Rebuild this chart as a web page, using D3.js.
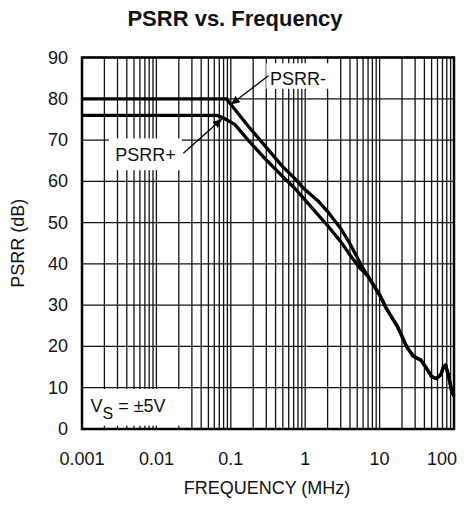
<!DOCTYPE html>
<html>
<head>
<meta charset="utf-8">
<script src="https://cdn.jsdelivr.net/npm/d3@7"></script>
<style>
  body { margin: 0; background: #fff; }
  text { font-family: "Liberation Sans", Arial, sans-serif; fill: #111; }
</style>
</head>
<body>
<svg id="psrr-chart" width="469" height="505"></svg>
<script>
// values
const freqMinus = [0.001, 0.087, 0.171, 0.288, 0.484, 0.733, 0.95, 1.5, 2.06, 3.0, 3.85, 5.83, 7, 10, 12, 14.4, 17.4, 23.2, 28.2, 32.4, 35.8, 41.3, 45.5, 50, 58, 66.8, 72, 77, 85, 93, 100];
const psrrMinus = [80, 80, 73.4, 68.6, 63.8, 60.6, 58.3, 55.2, 52.4, 48.6, 45.4, 39.3, 37, 32.5, 29.6, 27.2, 24.8, 19.9, 17.7, 17.1, 16.7, 15.1, 13.9, 12.7, 12.2, 13.2, 15, 15.5, 12.7, 9.2, 8];

const freqPlus = [0.001, 0.065, 0.0785, 0.113, 0.171, 0.288, 0.484, 0.733, 1.2, 2.06, 3.0, 3.85, 5.25, 7, 10, 12, 14.4, 17.4, 23.2, 28.2, 32.4, 35.8, 41.3, 45.5, 50, 58, 66.8, 72, 77, 85, 93, 100];
const psrrPlus = [76, 76, 75.4, 73.8, 70, 65.5, 61.4, 58.2, 53.8, 49, 45.4, 42.6, 39.3, 37, 32.5, 29.6, 27.2, 24.8, 19.9, 17.7, 17.1, 16.7, 15.1, 13.9, 12.7, 12.2, 13.2, 15, 15.5, 12.7, 9.2, 8];

const xTickValues = [0.001, 0.01, 0.1, 1, 10, 100];
const xTickLabels = ["0.001", "0.01", "0.1", "1", "10", "100"];
const yTickValues = [0, 10, 20, 30, 40, 50, 60, 70, 80, 90];

// plot box in pixels
const plotLeft = 82, plotRight = 454, plotTop = 57.5, plotBottom = 429;

var svg = d3.select("#psrr-chart");

var x = d3.scaleLog().domain([0.001, 100]).range([plotLeft, plotRight]);
var y = d3.scaleLinear().domain([0, 90]).range([plotBottom, plotTop]);

//Grid: every 1..9 of each decade, and every 10 dB
var grid = svg.append("g").attr("stroke", "#111").attr("stroke-width", 1.3);
grid.selectAll("line.v")
    .data(x.ticks())
    .enter().append("line")
    .attr("class", "v")
    .attr("x1", d => x(d)).attr("x2", d => x(d))
    .attr("y1", plotTop).attr("y2", plotBottom);
grid.selectAll("line.h")
    .data(yTickValues)
    .enter().append("line")
    .attr("class", "h")
    .attr("x1", plotLeft).attr("x2", plotRight)
    .attr("y1", d => y(d)).attr("y2", d => y(d));

//White label boxes sit over the grid
function box(f0, f1, v0, v1) {
    svg.append("rect")
        .attr("x", x(f0)).attr("width", x(f1) - x(f0))
        .attr("y", y(v1)).attr("height", y(v0) - y(v1))
        .attr("fill", "#fff");
}
box(0.00105, 0.026, 0.8, 9.7);     // V_S
box(0.0023, 0.022, 62.7, 70.4);    // PSRR+
box(0.3, 2.2, 82.4, 88.6);         // PSRR-

//Curves
var line = d3.line()
    .x(d => x(d[0]))
    .y(d => y(d[1]));

[[freqPlus, psrrPlus], [freqMinus, psrrMinus]].forEach(function(s) {
    svg.append("path")
        .datum(d3.zip(s[0], s[1]))
        .attr("d", line)
        .attr("fill", "none")
        .attr("stroke", "#000")
        .attr("stroke-width", 3.3)
        .attr("stroke-linejoin", "round");
});

//Frame
svg.append("rect")
    .attr("x", plotLeft).attr("y", plotTop)
    .attr("width", plotRight - plotLeft).attr("height", plotBottom - plotTop)
    .attr("fill", "none").attr("stroke", "#000").attr("stroke-width", 2.5);

//Arrows
svg.append("defs").append("marker")
    .attr("id", "head")
    .attr("viewBox", "0 0 10 10")
    .attr("refX", 10).attr("refY", 5)
    .attr("markerWidth", 9).attr("markerHeight", 9)
    .attr("markerUnits", "userSpaceOnUse")
    .attr("orient", "auto")
    .append("path").attr("d", "M0,0.5 L10,5 L0,9.5 Z").attr("fill", "#000");

function arrow(f0, v0, f1, v1) {
    svg.append("line")
        .attr("x1", x(f0)).attr("y1", y(v0))
        .attr("x2", x(f1)).attr("y2", y(v1))
        .attr("stroke", "#000").attr("stroke-width", 1.3)
        .attr("marker-end", "url(#head)");
}
arrow(0.32, 85.6, 0.1, 78.6);
arrow(0.023, 66.8, 0.076, 75.1);

//Annotation texts
svg.append("text").attr("x", x(0.336)).attr("y", y(83.3))
    .style("font-size", "18px").text("PSRR-");
svg.append("text").attr("x", x(0.0028)).attr("y", y(64.9))
    .style("font-size", "18px").text("PSRR+");

var vs = svg.append("text").attr("x", x(0.0013)).attr("y", y(4.2)).style("font-size", "18px");
vs.append("tspan").text("V");
vs.append("tspan").attr("dy", 7).style("font-size", "16px").text("S");
vs.append("tspan").attr("dy", -7).text(" = \u00b15V");

//Tick labels
svg.selectAll("text.ylab")
    .data(yTickValues)
    .enter().append("text")
    .attr("class", "ylab")
    .attr("x", 68).attr("y", d => y(d))
    .attr("text-anchor", "end")
    .attr("dominant-baseline", "central")
    .style("font-size", "18px")
    .text(d => d);

svg.selectAll("text.xlab")
    .data(xTickValues)
    .enter().append("text")
    .attr("class", "xlab")
    .attr("x", (d, i) => i == xTickValues.length - 1 ? x(d) + 3 : x(d))
    .attr("y", 465)
    .attr("text-anchor", (d, i) => i == xTickValues.length - 1 ? "end" : "middle")
    .style("font-size", "18px")
    .text((d, i) => xTickLabels[i]);

//Titles
svg.append("text")
    .attr("x", 235).attr("y", 25.5)
    .attr("text-anchor", "middle")
    .style("font-size", "22px").style("font-weight", "bold")
    .text("PSRR vs. Frequency");

svg.append("text")
    .attr("x", 267).attr("y", 494)
    .attr("text-anchor", "middle")
    .style("font-size", "18px")
    .text("FREQUENCY (MHz)");

svg.append("text")
    .attr("transform", "translate(18," + ((plotTop + plotBottom) / 2) + ") rotate(-90)")
    .attr("text-anchor", "middle")
    .attr("dominant-baseline", "central")
    .style("font-size", "18px")
    .text("PSRR (dB)");
</script>
</body>
</html>
